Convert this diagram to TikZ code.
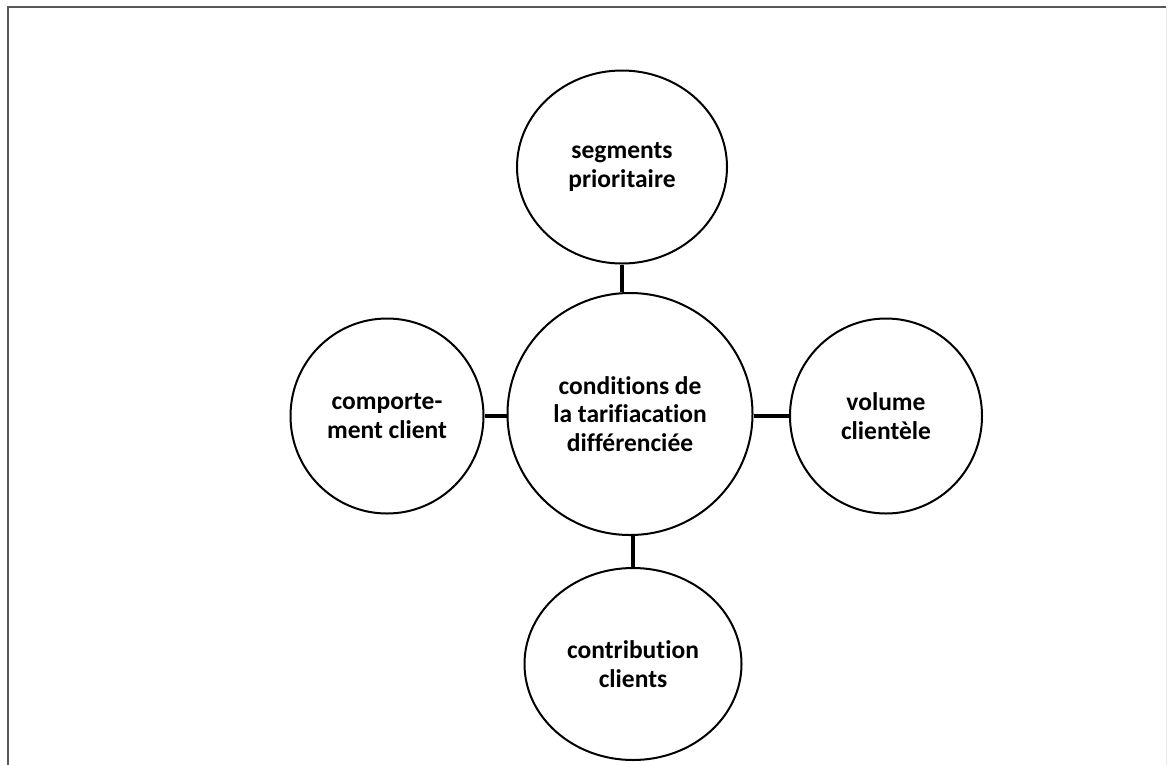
\documentclass[tikz,border=0pt]{standalone}
\usepackage{fontspec}
\setmainfont{Carlito}[Ligatures=NoCommon]
\usetikzlibrary{shapes.geometric}
\begin{document}
\begin{tikzpicture}[x=1pt,y=-1pt,
  bubble/.style={ellipse,draw=black,line width=2pt,fill=white,inner sep=0pt,
    align=center,font=\fontsize{25.5}{28.5}\selectfont\bfseries},
  link/.style={line width=3.5pt,black}]
  \useasboundingbox (0,0) rectangle (1170,764);
  % page frame
  \draw[line width=2.2pt,black!65] (8,770) -- (8,7) -- (1166,7);
  \draw[line width=1pt,black!8] (1166,7) -- (1166,770);
  % concept bubbles
  \node[bubble,minimum width=245pt,minimum height=242pt] (c) at (630,414)
    {conditions de\\la tarifiacation\\différenciée};
  \node[bubble,minimum width=210pt,minimum height=193pt] (t) at (622,167)
    {segments\\prioritaire};
  \node[bubble,minimum width=193pt,minimum height=195pt] (l) at (387,416)
    {comporte-\\ment client};
  \node[bubble,minimum width=192pt,minimum height=195pt] (r) at (886,416)
    {volume\\clientèle};
  \node[bubble,minimum width=217pt,minimum height=192pt] (b) at (633,664)
    {contribution\\clients};
  % connectors
  \draw[link] (t.south) -- (t.south |- c.north);
  \draw[link] (l.east) -- (l.east -| c.west);
  \draw[link] (r.west) -- (r.west -| c.east);
  \draw[link] (b.north) -- (b.north |- c.south);
\end{tikzpicture}
\end{document}
